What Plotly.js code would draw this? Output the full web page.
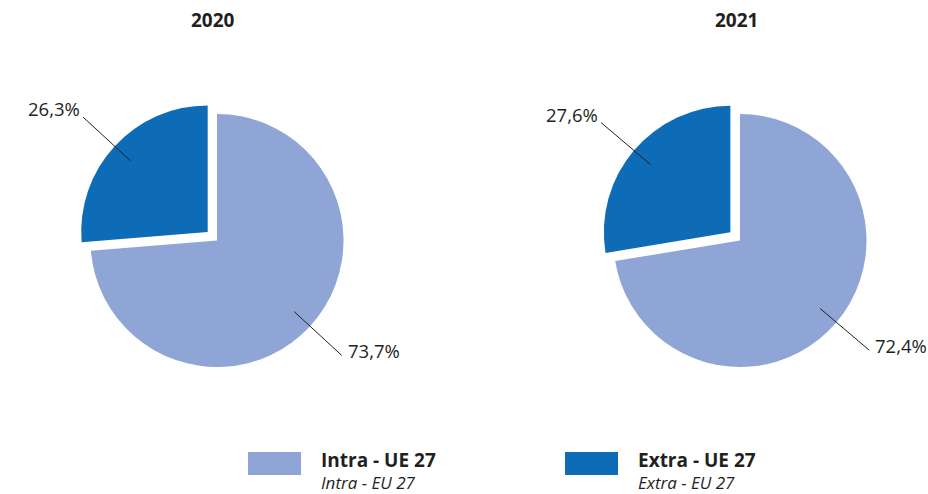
<!DOCTYPE html>
<html>
<head>
<meta charset="utf-8">
<script src="https://cdn.plot.ly/plotly-3.0.1.min.js"></script>
<style>html,body{margin:0;padding:0;background:#fff;}#chart{width:928px;height:494px;}</style>
</head>
<body>
<div id="chart"></div>
<script>
// ---- data ----
const years = ['2020', '2021'];
const categories = ['Intra - UE 27', 'Extra - UE 27'];
const categoriesEn = ['Intra - EU 27', 'Extra - EU 27'];
const values2020 = [73.7, 26.3];
const values2021 = [72.4, 27.6];
const seriesValues = [values2020, values2021];
const colors = ['#8ea5d5', '#0e6bb5'];
const pulls = [0, 0.1];

// ---- layout helpers ----
const W = 928, H = 494;
const FONT = '"Open Sans", "Noto Sans", Arial, sans-serif';
const TXT = '#231f20';
const domW = 0.2999, domH = 0.5634;
const centersPx = [[217, 240.5], [740, 240.5]];

const traces = [];
const shapes = [];
const annotations = [];

centersPx.forEach((c, i) => {
  const xc = c[0] / W, yc = 1 - c[1] / H;
  const dom = {x: [xc - domW / 2, xc + domW / 2], y: [yc - domH / 2, yc + domH / 2]};
  const vals = seriesValues[i];
  traces.push({
    type: 'pie', labels: categories, values: vals, sort: false,
    direction: 'clockwise', rotation: 0, pull: pulls,
    marker: {colors: colors, line: {width: 0}},
    textinfo: 'none', hoverinfo: 'label+percent', domain: dom, showlegend: false
  });
  // radius as Plotly computes it
  const maxPull = Math.max(...pulls);
  const r = Math.min(domW * W, domH * H) / (2 + 2 * maxPull);
  const total = vals.reduce((a, b) => a + b, 0);
  let start = 0;
  vals.forEach((v, k) => {
    const span = v / total * 2 * Math.PI;
    const mid = start + span / 2; // clockwise from top
    start += span;
    const sx = Math.sin(mid), sy = -Math.cos(mid); // screen dir (y down)
    const ox = c[0] + sx * pulls[k] * r, oy = c[1] + sy * pulls[k] * r;
    const p0 = [ox + sx * 0.83 * r, oy + sy * 0.83 * r];
    const p1 = [ox + sx * 1.34 * r, oy + sy * 1.34 * r];
    shapes.push({type: 'line', xref: 'paper', yref: 'paper',
      x0: p0[0] / W, y0: 1 - p0[1] / H, x1: p1[0] / W, y1: 1 - p1[1] / H,
      line: {color: TXT, width: 1}});
    const right = sx > 0;
    annotations.push({
      xref: 'paper', yref: 'paper', showarrow: false,
      x: (p1[0] + (right ? 4 : -1)) / W, y: 1 - (p1[1] + (right ? -4.5 : -8.5)) / H,
      xanchor: right ? 'left' : 'right', yanchor: 'middle',
      text: v.toFixed(1).replace('.', ',') + '%',
      font: {family: FONT, size: 18.5, color: TXT}
    });
  });
  annotations.push({
    xref: 'paper', yref: 'paper', showarrow: false,
    x: (c[0] - 4) / W, y: 1 - 20 / H, xanchor: 'center', yanchor: 'middle',
    text: '<b>' + years[i] + '</b>', font: {family: FONT, size: 19, color: TXT}
  });
});

// legend drawn as shapes + text
const legendX = [248, 565];
categories.forEach((cat, k) => {
  const x = legendX[k];
  shapes.push({type: 'rect', xref: 'paper', yref: 'paper',
    x0: x / W, x1: (x + 53) / W, y0: 1 - 475 / H, y1: 1 - 452 / H,
    fillcolor: colors[k], line: {width: 0}});
  annotations.push({
    xref: 'paper', yref: 'paper', showarrow: false,
    x: (x + 71) / W, y: 1 - 496 / H, xanchor: 'left', yanchor: 'bottom', align: 'left',
    text: '<span style="font-size:19px"><b>' + cat + '</b></span><br><i>' + categoriesEn[k] + '</i>',
    font: {family: FONT, size: 17, color: TXT}
  });
});

Plotly.newPlot('chart', traces, {
  width: W, height: H, margin: {l: 0, r: 0, t: 0, b: 0},
  paper_bgcolor: '#fff', plot_bgcolor: '#fff', showlegend: false,
  shapes: shapes, annotations: annotations
}, {staticPlot: true});
</script>
</body>
</html>
